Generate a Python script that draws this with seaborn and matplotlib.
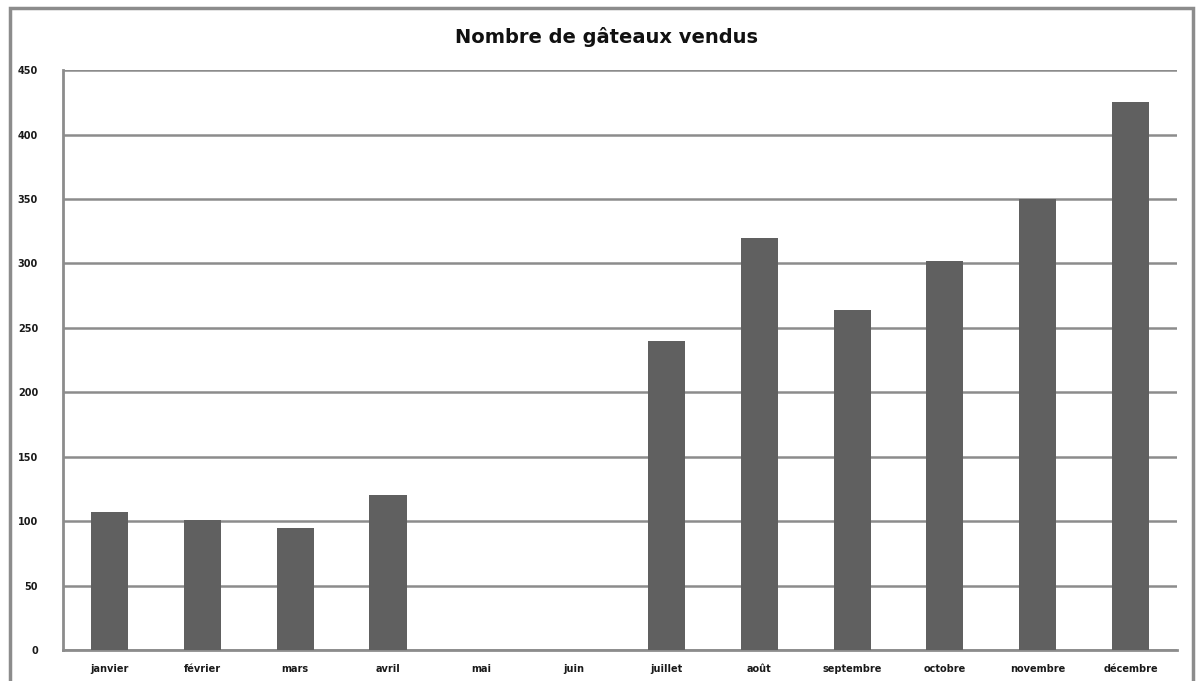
import pandas as pd
import numpy as np
import matplotlib.pyplot as plt
import seaborn as sns
from matplotlib.patches import Rectangle

# -----------------------------
# Data
# -----------------------------
mois = ["janvier", "février", "mars", "avril", "mai", "juin",
        "juillet", "août", "septembre", "octobre", "novembre", "décembre"]
gateaux = [107, 101, 95, 120, 0, 0, 240, 320, 264, 302, 350, 425]

df = pd.DataFrame({"mois": mois, "gateaux": gateaux})

# -----------------------------
# Plot
# -----------------------------
sns.set_style("white")
plt.rcParams["font.family"] = ["DejaVu Sans"]

fig = plt.figure(figsize=(12.01, 6.81), dpi=100)
ax = fig.add_axes([0.0525, 0.0455, 0.9275, 0.8515])

sns.barplot(x="mois", y="gateaux", data=df, color="#606060", width=0.4,
            saturation=1, linewidth=0, ax=ax, zorder=3)

ax.set_ylim(0, 450)
ax.set_yticks(np.arange(0, 451, 50))
ax.yaxis.grid(True, color="#8c8c8c", linewidth=1.8, zorder=0)
ax.set_axisbelow(True)
ax.set_xlabel("")
ax.set_ylabel("")
ax.tick_params(axis="both", length=0, labelsize=7, colors="#1a1a1a")
ax.tick_params(axis="x", pad=10)
ax.tick_params(axis="y", pad=18)
for lbl in ax.get_xticklabels() + ax.get_yticklabels():
    lbl.set_fontweight("bold")

for side in ["top", "right"]:
    ax.spines[side].set_visible(False)
for side in ["left", "bottom"]:
    ax.spines[side].set_color("#8c8c8c")
    ax.spines[side].set_linewidth(2)

fig.text(0.505, 0.945, "Nombre de gâteaux vendus", ha="center", va="center",
         fontsize=14, fontweight="bold", color="#111111")

# chart area frame
fig.patches.append(Rectangle((0.008, -0.01), 0.985, 0.998, transform=fig.transFigure,
                             fill=False, edgecolor="#8c8c8c", linewidth=2.5))

plt.savefig("out.png", dpi=100)
